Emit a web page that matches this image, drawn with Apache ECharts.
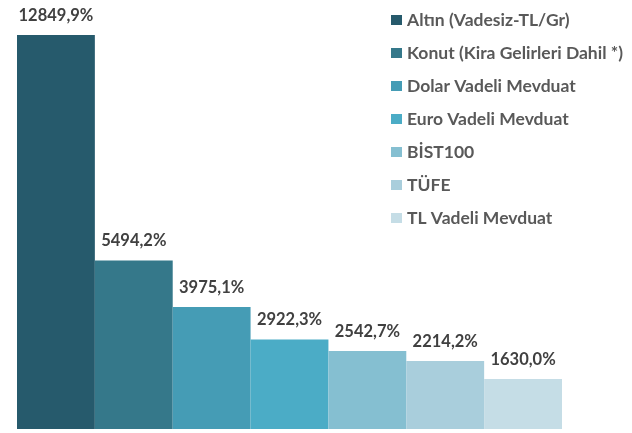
<!DOCTYPE html>
<html><head><meta charset="utf-8">
<script src="https://cdn.jsdelivr.net/npm/echarts@6/dist/echarts.min.js"></script>
<style>html,body{margin:0;padding:0;background:#fff}#c{width:632px;height:433px}</style>
</head><body><div id="c"></div>
<script>
const names = ["Altın (Vadesiz-TL/Gr)","Konut (Kira Gelirleri Dahil *)","Dolar Vadeli Mevduat","Euro Vadeli Mevduat","BİST100","TÜFE","TL Vadeli Mevduat"];
const values = [12849.9, 5494.2, 3975.1, 2922.3, 2542.7, 2214.2, 1630.0];
const colors = ["#265A6C","#35788A","#459CB5","#4BACC6","#85BFD1","#A9CEDC","#C5DDE6"];
const chart = echarts.init(document.getElementById('c'));
const series = names.map((n,i)=>({
  name:n, type:'bar', data:[values[i]], barGap:'0%', barCategoryGap:'0%',
  itemStyle:{color:colors[i]},
  label:{show:true, position:'top', distance:11, color:'#404040', fontFamily:'Lato', fontWeight:'bold', fontSize:16.5,
    formatter:p=>p.value.toFixed(1).replace('.',',')+'%'}
}));
chart.setOption({
  animation:false,
  grid:{left:17,right:70,top:35,bottom:4},
  xAxis:{type:'category',data:[''],axisLine:{show:false},axisTick:{show:false},axisLabel:{show:false}},
  yAxis:{type:'value',min:0,max:12849.9,show:false,splitLine:{show:false}},
  legend:{orient:'vertical',left:386,top:6,itemWidth:11,itemHeight:10,itemGap:15,icon:'rect',
    textStyle:{color:'#595959',fontFamily:'Lato',fontWeight:'bold',fontSize:17.5}},
  series:series
});
</script></body></html>
